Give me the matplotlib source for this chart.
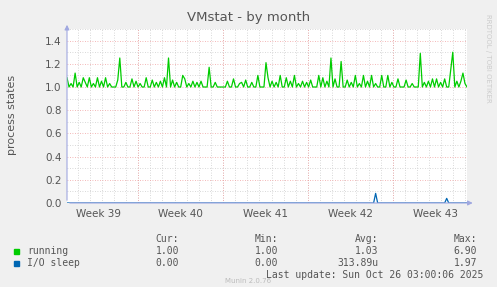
import matplotlib
matplotlib.use('Agg')
import matplotlib.pyplot as plt
import numpy as np

# one sample every 4 hours, 33 days (Sep 23 03:00 -> Oct 26 03:00)
running = [
    1.08, 1.00, 1.03, 1.00, 1.12, 1.00, 1.04, 1.00, 1.08, 1.04, 1.00, 1.08,
    1.00, 1.03, 1.00, 1.08, 1.00, 1.05, 1.00, 1.08, 1.00, 1.03, 1.00, 1.00,
    1.00, 1.06, 1.25, 1.00, 1.00, 1.04, 1.00, 1.00, 1.07, 1.00, 1.05, 1.00,
    1.03, 1.00, 1.00, 1.08, 1.00, 1.00, 1.06, 1.00, 1.04, 1.00, 1.05, 1.00,
    1.08, 1.00, 1.25, 1.00, 1.06, 1.00, 1.04, 1.00, 1.00, 1.10, 1.07, 1.00,
    1.03, 1.00, 1.05, 1.00, 1.04, 1.00, 1.05, 1.00, 1.00, 1.00, 1.17, 1.00,
    1.00, 1.04, 1.00, 1.00, 1.00, 1.00, 1.00, 1.05, 1.00, 1.00, 1.07, 1.00,
    1.00, 1.03, 1.04, 1.00, 1.06, 1.00, 1.00, 1.04, 1.00, 1.00, 1.10, 1.00,
    1.00, 1.00, 1.21, 1.08, 1.00, 1.05, 1.00, 1.04, 1.00, 1.10, 1.00, 1.00,
    1.08, 1.00, 1.05, 1.00, 1.10, 1.00, 1.03, 1.00, 1.05, 1.00, 1.04, 1.00,
    1.06, 1.00, 1.00, 1.00, 1.10, 1.00, 1.08, 1.00, 1.05, 1.00, 1.25, 1.00,
    1.07, 1.00, 1.00, 1.22, 1.00, 1.00, 1.06, 1.00, 1.04, 1.00, 1.10, 1.00,
    1.03, 1.00, 1.10, 1.00, 1.05, 1.00, 1.10, 1.00, 1.03, 1.00, 1.00, 1.10,
    1.00, 1.00, 1.10, 1.00, 1.04, 1.00, 1.00, 1.07, 1.00, 1.00, 1.00, 1.06,
    1.00, 1.00, 1.03, 1.00, 1.00, 1.00, 1.29, 1.00, 1.04, 1.00, 1.05, 1.00,
    1.07, 1.00, 1.07, 1.00, 1.04, 1.00, 1.07, 1.00, 1.00, 1.15, 1.30, 1.00,
    1.05, 1.00, 1.05, 1.12, 1.03, 1.00,
]
io_sleep = [0.0] * len(running)
io_sleep[152] = 0.083
io_sleep[187] = 0.04

week_labels = ['Week 39', 'Week 40', 'Week 41', 'Week 42', 'Week 43']
week_starts = [5.875, 12.875, 19.875, 26.875]  # Mondays 00:00, days from start
span = 33.0

t = np.arange(len(running)) * span / (len(running) - 1)

fig = plt.figure(figsize=(4.97, 2.87), dpi=100, facecolor='#f0f0f0')
ax = fig.add_axes([67 / 497, 84 / 287, 400 / 497, 174 / 287])
ax.set_facecolor('white')

# grid
for d in np.arange(0.875, span, 1.0):
    ax.axvline(d, color='#cccccc', lw=0.6, ls=(0, (1, 2)), zorder=1)
for w in week_starts:
    ax.axvline(w, color='#f0a0a0', lw=0.6, ls=(0, (1, 2)), zorder=1)
for y in np.arange(0.1, 1.55, 0.2):
    ax.axhline(y, color='#cccccc', lw=0.6, ls=(0, (1, 2)), zorder=1)
for y in np.arange(0.2, 1.45, 0.2):
    ax.axhline(y, color='#f0a0a0', lw=0.6, ls=(0, (1, 2)), zorder=1)

ax.plot(t, running, color='#00cc00', lw=0.9, zorder=3)
ax.plot(t, io_sleep, color='#0066b3', lw=0.9, zorder=3)

ax.set_xlim(0, span)
ax.set_ylim(0, 1.5)
ax.set_yticks([0.0, 0.2, 0.4, 0.6, 0.8, 1.0, 1.2, 1.4])
ax.set_yticklabels(['0.0', '0.2', '0.4', '0.6', '0.8', '1.0', '1.2', '1.4'])
centers = [week_starts[0] - 3.25] + [w + 3.5 for w in week_starts]
ax.set_xticks(centers)
ax.set_xticklabels(week_labels)
ax.tick_params(length=0, labelsize=7.5, colors='#555555', pad=4)
for s in ax.spines.values():
    s.set_visible(False)

# axis lines with arrows
ax.annotate('', xy=(span + 0.7, 0), xytext=(0, 0), xycoords='data',
            arrowprops=dict(arrowstyle='-|>', color='#a0a8e0', lw=0.8,
                            mutation_scale=7), annotation_clip=False)
ax.annotate('', xy=(0, 1.56), xytext=(0, 0), xycoords='data',
            arrowprops=dict(arrowstyle='-|>', color='#a0a8e0', lw=0.8,
                            mutation_scale=7), annotation_clip=False)

fig.text(0.5, 1 - 18 / 287, 'VMstat - by month', ha='center', va='center',
         fontsize=9.5, color='#555555')
fig.text(12 / 497, 1 - 115 / 287, 'process states', rotation=90, ha='center',
         va='center', fontsize=8, color='#555555')
fig.text(488 / 497, 1 - 58 / 287, 'RRDTOOL / TOBI OETIKER', rotation=270,
         ha='center', va='center', fontsize=5, color='#cccccc')

# legend block
mono = dict(family='DejaVu Sans Mono', fontsize=7, color='#555555', va='center')
def row(y, cells):
    for x, s in cells:
        fig.text(x / 497, 1 - y / 287, s, ha='right', **mono)

row(239, [(179, 'Cur:'), (278, 'Min:'), (378, 'Avg:'), (477, 'Max:')])
row(251, [(179, '1.00'), (278, '1.00'), (378, '1.03'), (477, '6.90')])
row(263, [(179, '0.00'), (278, '0.00'), (378, '313.89u'), (477, '1.97')])
fig.text(27 / 497, 1 - 251 / 287, 'running', ha='left', **mono)
fig.text(27 / 497, 1 - 263 / 287, 'I/O sleep', ha='left', **mono)
fig.patches.append(plt.Rectangle((14 / 497, 1 - 254 / 287), 5 / 497, 5 / 287,
                                 transform=fig.transFigure, color='#00cc00'))
fig.patches.append(plt.Rectangle((14 / 497, 1 - 266 / 287), 5 / 497, 5 / 287,
                                 transform=fig.transFigure, color='#0066b3'))
fig.text(483 / 497, 1 - 275 / 287, 'Last update: Sun Oct 26 03:00:06 2025',
         ha='right', **mono)
fig.text(248 / 497, 1 - 281 / 287, 'Munin 2.0.76', ha='center', va='center',
         fontsize=5, color='#bbbbbb')

fig.savefig('out.png', dpi=100, facecolor=fig.get_facecolor())
